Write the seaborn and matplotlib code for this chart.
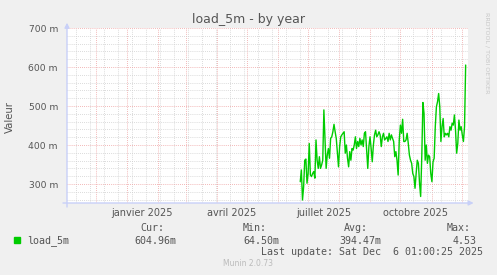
import matplotlib
matplotlib.use("Agg")
import matplotlib.pyplot as plt
import matplotlib.dates as mdates
import matplotlib.ticker as mticker
import seaborn as sns
import pandas as pd

# ---- data (values in milli-load, "m") ----
load_5m = [306, 336, 259, 293, 361, 364, 302, 327, 404, 323, 319, 327, 332, 315,
           413, 361, 340, 370, 340, 349, 361, 490, 413, 340, 374, 391, 366, 417,
           421, 434, 453, 434, 417, 379, 344, 396, 421, 426, 430, 434, 379, 400,
           366, 344, 383, 361, 391, 387, 400, 421, 391, 409, 396, 417, 400, 413,
           396, 430, 434, 387, 340, 396, 421, 391, 357, 400, 426, 438, 421, 426,
           434, 426, 396, 421, 430, 413, 417, 421, 409, 430, 413, 426, 417, 409,
           370, 383, 361, 323, 413, 451, 430, 466, 409, 409, 413, 430, 404, 374,
           361, 353, 327, 319, 289, 327, 361, 353, 302, 268, 370, 509, 481, 361,
           400, 353, 374, 370, 327, 306, 357, 366, 447, 498, 511, 532, 498, 409,
           447, 468, 421, 430, 426, 430, 421, 447, 438, 456, 451, 477, 438, 379,
           404, 464, 438, 447, 426, 409, 447, 605]
series_start = "2025-06-23"
series_end = "2025-12-05"
window_end = "2025-12-07 08:00"
window_days = 400

x_label_dates = ["2025-01-16", "2025-04-16", "2025-07-16", "2025-10-16"]
x_labels = ["janvier 2025", "avril 2025", "juillet 2025", "octobre 2025"]
minor_grid_start = "2024-11-11"
y_major = [300, 400, 500, 600, 700]
y_min, y_max = 251.3, 700

title = "load_5m - by year"
y_title = "Valeur"
series_name = "load_5m"
stat_names = ["Cur:", "Min:", "Avg:", "Max:"]
stat_values = ["604.96m", "64.50m", "394.47m", "4.53"]
last_update = "Last update: Sat Dec  6 01:00:25 2025"
footer = "Munin 2.0.73"
side_text = "RRDTOOL / TOBI OETIKER"

# ---- build frame ----
dates = pd.date_range(series_start, series_end, periods=len(load_5m))
df = pd.DataFrame({"date": dates, "value": load_5m})

sns.set_style("white")
plt.rcParams["font.family"] = ["DejaVu Sans"]

W, H = 497, 275
fig = plt.figure(figsize=(W / 100, H / 100), dpi=100, facecolor="#F0F0F0")
L, R, T, B = 67, 468, 28, 203
ax = fig.add_axes([L / W, 1 - B / H, (R - L) / W, (B - T) / H])
ax.set_facecolor("white")

red = "#EEA0A0"
grey = "#CFCFCF"
txt = "#555555"
axis_col = "#C8D0F8"

end = pd.Timestamp(window_end)
start = end - pd.Timedelta(days=window_days)

# grid
ax.yaxis.set_major_locator(mticker.FixedLocator(y_major))
ax.yaxis.set_minor_locator(mticker.MultipleLocator(20))
ax.xaxis.set_major_locator(mdates.MonthLocator())
minor_dates = pd.date_range(minor_grid_start, end, freq="14D")
ax.xaxis.set_minor_locator(mticker.FixedLocator(mdates.date2num(minor_dates)))
ax.grid(which="minor", color=grey, linestyle=(0, (1, 1.5)), linewidth=0.6)
ax.grid(which="major", color=red, linestyle=(0, (1, 1.5)), linewidth=0.6)
ax.set_axisbelow(True)

sns.lineplot(data=df, x="date", y="value", color="#00CC00", linewidth=1.0, ax=ax)

ax.set_xlim(start, end)
ax.set_ylim(y_min, y_max)

ax.yaxis.set_major_formatter(mticker.FuncFormatter(lambda v, p: f"{int(round(v))} m"))
ax.xaxis.set_major_formatter(mticker.NullFormatter())
ax.xaxis.set_minor_formatter(mticker.NullFormatter())
ax.tick_params(axis="y", which="major", labelsize=6.6, labelcolor=txt, length=0, pad=6.5)
ax.tick_params(axis="y", which="minor", length=0)
ax.tick_params(axis="x", which="major", length=3, color=red, width=0.8, direction="out")
ax.tick_params(axis="x", which="minor", length=3, color=grey, width=0.8, direction="out")

for s in ["top", "right", "left", "bottom"]:
    ax.spines[s].set_visible(False)
ax.set_xlabel("")
ax.set_ylabel("")

# axis lines with arrows (decoration)
ax.annotate("", xy=(1.014, 0), xytext=(-0.01, 0), xycoords="axes fraction",
            arrowprops=dict(arrowstyle="-|>", color=axis_col, lw=1, mutation_scale=7,
                            shrinkA=0, shrinkB=0), annotation_clip=False)
ax.annotate("", xy=(0, 1.03), xytext=(0, -0.023), xycoords="axes fraction",
            arrowprops=dict(arrowstyle="-|>", color=axis_col, lw=1, mutation_scale=7,
                            shrinkA=0, shrinkB=0), annotation_clip=False)

# month labels
for d, lab in zip(x_label_dates, x_labels):
    ax.text(pd.Timestamp(d), -0.03, lab, transform=ax.get_xaxis_transform(),
            ha="center", va="top", fontsize=7, color=txt)

def fpx(x, y):
    return x / W, 1 - y / H

fig.text(*fpx(249, 19.5), title, ha="center", va="center", fontsize=9, color=txt)
fig.text(*fpx(10, 117), y_title, ha="center", va="center", rotation=90, fontsize=7.3, color=txt)
fig.text(*fpx(487, 53), side_text, ha="center", va="center", rotation=270,
         fontsize=4.6, color="#C8C8C8")

mono = "DejaVu Sans Mono"
for name, xs in zip(stat_names, [140, 243, 344, 447]):
    fig.text(*fpx(xs, 228), name, ha="left", va="center", fontsize=7.2, family=mono, color=txt)
for val, xs in zip(stat_values, [134, 243, 339, 453]):
    fig.text(*fpx(xs, 240.5), val, ha="left", va="center", fontsize=7.2, family=mono, color=txt)
fig.patches.append(plt.Rectangle(fpx(14, 243), 6 / W, 6 / H, transform=fig.transFigure,
                                 color="#00CC00", figure=fig))
fig.text(*fpx(27, 240.5), series_name, ha="left", va="center", fontsize=7.2, family=mono, color=txt)
fig.text(*fpx(483, 252), last_update, ha="right", va="center", fontsize=7.2, family=mono, color=txt)
fig.text(*fpx(248, 264), footer, ha="center", va="center", fontsize=5.5, color="#BBBBBB")

fig.savefig("out.png", dpi=100, facecolor=fig.get_facecolor())
